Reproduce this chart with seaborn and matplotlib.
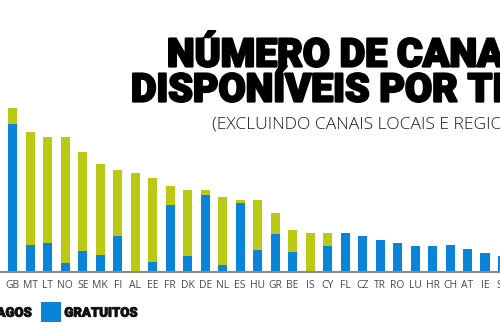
import matplotlib
matplotlib.use("Agg")
import matplotlib.pyplot as plt
import matplotlib.patheffects as pe
import seaborn as sns
import pandas as pd
from matplotlib.patches import Rectangle

# Channels per country: free-to-air (blue) and pay (green) counts
countries = ["GB", "MT", "LT", "NO", "SE", "MK", "FI", "AL", "EE", "FR", "DK", "DE",
             "NL", "ES", "HU", "GR", "BE", "IS", "CY", "FL", "CZ", "TR", "RO", "LU",
             "HR", "CH", "AT", "IE", "SK"]
free = [74, 13.5, 14.5, 4.5, 10.5, 8.5, 18, 0, 5, 33.5, 8, 38.5,
        3.5, 34.5, 11, 19, 10, 0, 13, 19.5, 18, 16, 14.5, 13,
        13, 13.5, 11.5, 9.5, 8]
paid = [8, 56.5, 53, 63, 49.5, 45.5, 33, 49.5, 42, 9.5, 33, 2.5,
        34, 1.5, 25, 10.5, 11, 19.5, 6.5, 0, 0, 0, 0, 0,
        0, 0, 0, 0, 0]

BLUE = "#0a84d8"
GREEN = "#bac913"

df = pd.DataFrame({"pais": countries, "gratuitos": free, "pagos": paid})
df["total"] = df["gratuitos"] + df["pagos"]

sns.set_theme(style="white")
plt.rcParams["font.family"] = ["Open Sans", "DejaVu Sans"]

W, H = 500, 330
fig = plt.figure(figsize=(W / 100, H / 100), dpi=100)

# axis geometry in pixels
step = 17.49
x0 = 12.8
xlo, xhi = -0.8, 28.6
left_px = x0 + xlo * step
right_px = x0 + xhi * step
base_px = 272
ax_h_px = 190
ax = fig.add_axes([left_px / W, (H - base_px) / H, (right_px - left_px) / W, ax_h_px / H])

sns.barplot(data=df, x="pais", y="total", color=GREEN, width=0.52,
            saturation=1, ax=ax, linewidth=0)
sns.barplot(data=df, x="pais", y="gratuitos", color=BLUE, width=0.52,
            saturation=1, ax=ax, linewidth=0)

ax.set_xlim(xlo, xhi)
ax.set_ylim(0, ax_h_px / 2)
ax.set_xlabel("")
ax.set_ylabel("")
ax.set_yticks([])
for s in ["top", "right", "left"]:
    ax.spines[s].set_visible(False)
ax.spines["bottom"].set_color("#8a8a8a")
ax.spines["bottom"].set_linewidth(1.5)
ax.tick_params(axis="x", length=0, pad=6, labelsize=7.5, labelcolor="#4a4a4a")
ax.patch.set_alpha(0)

# title block
def px(x, y):
    return x / W, 1 - y / H

heavy = [pe.withStroke(linewidth=1.6, foreground="black")]
title_font = dict(family=["Roboto", "DejaVu Sans"], fontweight="black", color="black",
                  path_effects=heavy)
fig.text(*px(167, 66.5), "NÚMERO DE CANAIS", fontsize=28.3, va="baseline", ha="left", **title_font)
fig.text(*px(131, 101.5), "DISPONÍVEIS POR TIPO", fontsize=28.3, va="baseline", ha="left", **title_font)
fig.text(*px(212, 128), "(EXCLUINDO CANAIS LOCAIS E REGIONAIS)", fontsize=12.6,
         va="baseline", ha="left", color="#1a1a1a", fontweight="light",
         family=["Open Sans", "DejaVu Sans"])

# legend
legend_font = dict(family=["Roboto", "DejaVu Sans"], fontweight="black", color="#111111",
                   fontsize=9.5, path_effects=[pe.withStroke(linewidth=0.6, foreground="#111111")])
fig.patches.append(Rectangle(px(-32, 322.3), 20 / W, 20 / H, transform=fig.transFigure,
                             facecolor=GREEN, edgecolor="none"))
fig.text(*px(32, 316.7), "PAGOS", va="baseline", ha="right", **legend_font)
fig.patches.append(Rectangle(px(40.7, 322.3), 20.3 / W, 20 / H, transform=fig.transFigure,
                             facecolor=BLUE, edgecolor="none"))
fig.text(*px(64.3, 316.7), "GRATUITOS", va="baseline", ha="left", **legend_font)

fig.savefig("out.png", dpi=100)
